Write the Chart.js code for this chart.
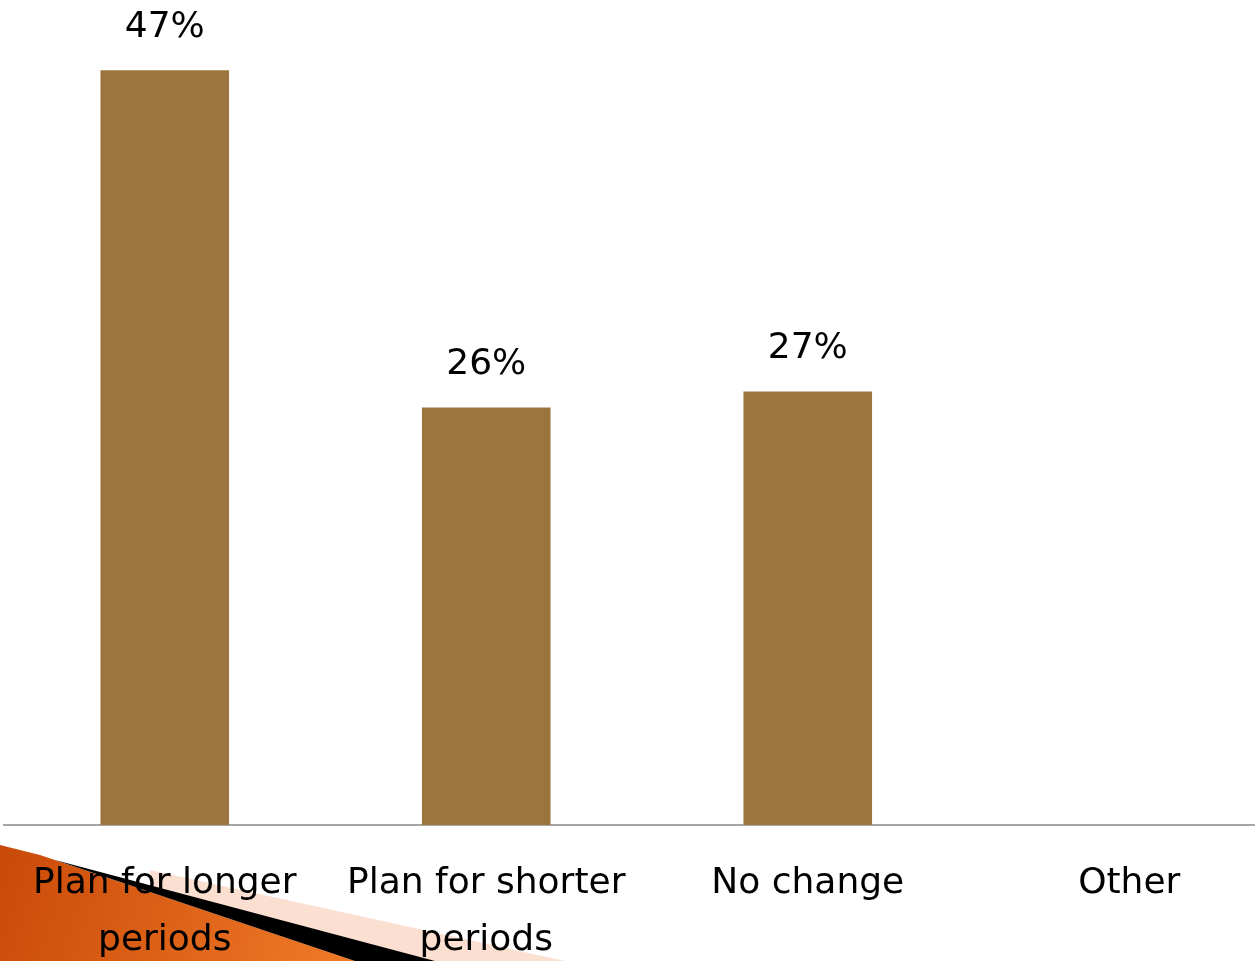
<!DOCTYPE html>
<html>
<head>
<meta charset="utf-8">
<script src="https://cdn.jsdelivr.net/npm/chart.js@4/dist/chart.umd.min.js"></script>
<style>
  html, body { margin: 0; padding: 0; background: #fff; overflow: hidden; }
  #wrap { position: relative; width: 1290px; height: 961px; }
</style>
</head>
<body>
<div id="wrap"><canvas id="myChart"></canvas></div>
<script>
var categories = [["Plan for longer", "periods"], ["Plan for shorter", "periods"], "No change", "Other"];
var shares = [47, 26, 27, 0];
var shareLabels = ["47%", "26%", "27%", ""];

var barColor = "#9b753d";
var fontName = "'DejaVu Sans', sans-serif";

// slide corner ornament behind the axis labels
var ornament = {
    id: "ornament",
    beforeDraw: function(chart){
        var ctx = chart.ctx;
        ctx.save();
        // pale band
        ctx.fillStyle = "#fbe0d2";
        ctx.beginPath();
        ctx.moveTo(150, 870);
        ctx.lineTo(565, 961);
        ctx.lineTo(150, 961);
        ctx.closePath();
        ctx.fill();
        // orange wedge
        var g = ctx.createLinearGradient(0, 850, 350, 961);
        g.addColorStop(0, "#c94a08");
        g.addColorStop(1, "#f07a28");
        ctx.fillStyle = g;
        ctx.beginPath();
        ctx.moveTo(0, 845);
        ctx.lineTo(40, 855);
        ctx.lineTo(355, 961);
        ctx.lineTo(0, 961);
        ctx.closePath();
        ctx.fill();
        // dark stripe
        ctx.fillStyle = "#000";
        ctx.beginPath();
        ctx.moveTo(55, 860);
        ctx.lineTo(435, 961);
        ctx.lineTo(355, 961);
        ctx.closePath();
        ctx.fill();
        ctx.restore();
    }
};

// percentage text above each bar
var barValues = {
    id: "barValues",
    afterDatasetsDraw: function(chart){
        var ctx = chart.ctx;
        var meta = chart.getDatasetMeta(0);
        ctx.save();
        ctx.fillStyle = "#000";
        ctx.font = "36px " + fontName;
        ctx.textAlign = "center";
        ctx.textBaseline = "middle";
        meta.data.forEach(function(bar, i){
            if(shareLabels[i] != ""){
                ctx.fillText(shareLabels[i], bar.x, bar.y - 43);
            }
        });
        ctx.restore();
    }
};

var canvas = document.getElementById("myChart").getContext("2d");
var chart = new Chart(canvas, {
    type: "bar",
    data: {
        labels: categories,
        datasets: [{
            data: shares,
            backgroundColor: barColor,
            borderWidth: 0,
            barPercentage: 0.4,
            categoryPercentage: 1
        }]
    },
    options: {
        responsive: true,
        maintainAspectRatio: false,
        animation: false,
        layout: { padding: { left: 4, right: 0, top: 22, bottom: 0 } },
        plugins: {
            legend: { display: false },
            tooltip: { enabled: false }
        },
        scales: {
            x: {
                afterFit: function(scale){ scale.height = 136; },
                grid: { display: false, drawTicks: false },
                border: { color: "#a6a6a6", width: 2 },
                ticks: {
                    color: "#000",
                    padding: 31,
                    maxRotation: 0,
                    autoSkip: false,
                    font: { family: fontName, size: 36, lineHeight: 1.56 }
                }
            },
            y: {
                display: false,
                min: 0,
                max: 50
            }
        }
    },
    plugins: [ornament, barValues]
});
</script>
</body>
</html>
